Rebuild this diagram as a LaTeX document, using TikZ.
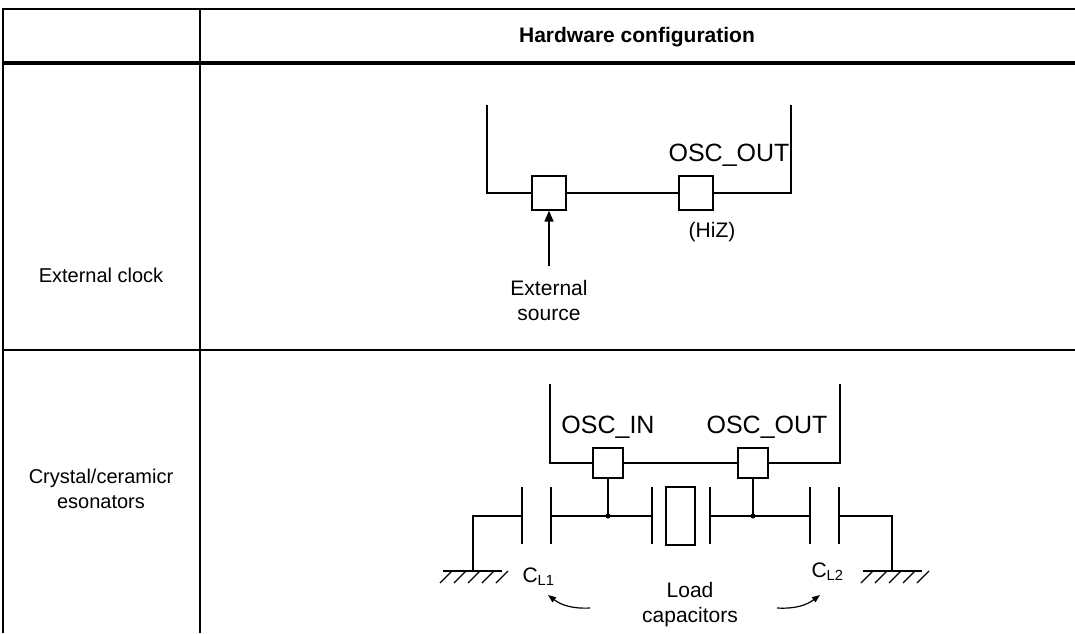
\documentclass[tikz,border=0pt]{standalone}
\usepackage{fontspec}
\setmainfont{Liberation Sans}
\usetikzlibrary{arrows.meta}
\begin{document}
\begin{tikzpicture}[x=1pt,y=-1pt,
  grid/.style={line width=1.2pt},
  wire/.style={line width=2pt},
  thin/.style={line width=1.2pt},
  pad/.style={draw,line width=1.2pt,fill=white,minimum size=34pt,inner sep=0pt},
  lbl/.style={font=\fontsize{25}{27}\selectfont,align=center},
  small/.style={font=\fontsize{21}{25}\selectfont,align=center},
  cell/.style={font=\fontsize{20}{25}\selectfont,align=center}]
\useasboundingbox (0,0) rectangle (1075,633);
% table
\draw[grid] (3,633) -- (3,9) -- (1075,9);
\draw[grid] (200,9) -- (200,633);
\draw[line width=4pt] (3,63) -- (1075,63);
\draw[grid] (3,350) -- (1075,350);
\node[font=\bfseries\fontsize{21}{24}\selectfont] (hdr) at (637,37) {Hardware configuration};
\node[cell] (r1) at (101,275) {External clock};
\node[cell] (r2) at (101,489) {Crystal/ceramicr\\esonators};
% external clock
\draw[wire] (487,105) -- (487,193) -- (791,193) -- (791,105);
\node[pad] (in1) at (549,193) {};
\node[pad] (out1) at (696,193) {};
\node[lbl,anchor=south] (o1) at (729,170) {OSC\_OUT};
\node[small] (hiz) at (712,232) {(HiZ)};
\node[small] (src) at (549,300) {External\\source};
\coordinate (srcTop) at (549,266);
\draw[thin,line width=1.6pt,-{Triangle[length=11pt,width=9pt]}] (srcTop) -- (in1.south);
% crystal
\draw[wire] (550,384) -- (550,463) -- (840,463) -- (840,384);
\node[pad,minimum size=30pt] (in2) at (608,463) {};
\node[pad,minimum size=30pt] (out2) at (753,463) {};
\node[lbl,anchor=south] at (608,442) {OSC\_IN};
\node[lbl,anchor=south] at (767,442) {OSC\_OUT};
\coordinate (j1) at (608,516); \coordinate (j2) at (753,516);
\fill (j1) circle (2.5); \fill (j2) circle (2.5);
\draw[thin] (in2.south) -- (j1); \draw[thin] (out2.south) -- (j2);
% plates
\foreach \x in {522,551,652,710,810,839} \draw[thin] (\x,487) -- (\x,544);
\draw[thin] (666,487) rectangle (695,545);
% wires
\coordinate (gl) at (473,571); \coordinate (gr) at (892,571);
\draw[thin] (gl) |- (522,516);
\draw[thin] (551,516) -- (652,516);
\draw[thin] (710,516) -- (810,516);
\draw[thin] (839,516) -| (gr);
% grounds
\draw[thin] (443,571) -- (502,571);
\foreach \x in {452,466,480,494,508} \draw[thin] (\x,571) -- (\x-12,583);
\draw[thin] (863,571) -- (922,571);
\foreach \x in {873,887,901,915,929} \draw[thin] (\x,571) -- (\x-12,583);
\node[small,anchor=west] at (519,577) {C\textsubscript{L1}};
\node[small,anchor=west] at (808,572) {C\textsubscript{L2}};
\node[small] (load) at (690,605) {Load\\capacitors};
\coordinate (a1) at (590,608); \coordinate (a2) at (777,608);
\draw[thin,-{Triangle[length=8pt,width=6pt]}] (a1) to[bend left=20] (548,595);
\draw[thin,-{Triangle[length=8pt,width=6pt]}] (a2) to[bend right=20] (820,595);
\end{tikzpicture}
\end{document}
